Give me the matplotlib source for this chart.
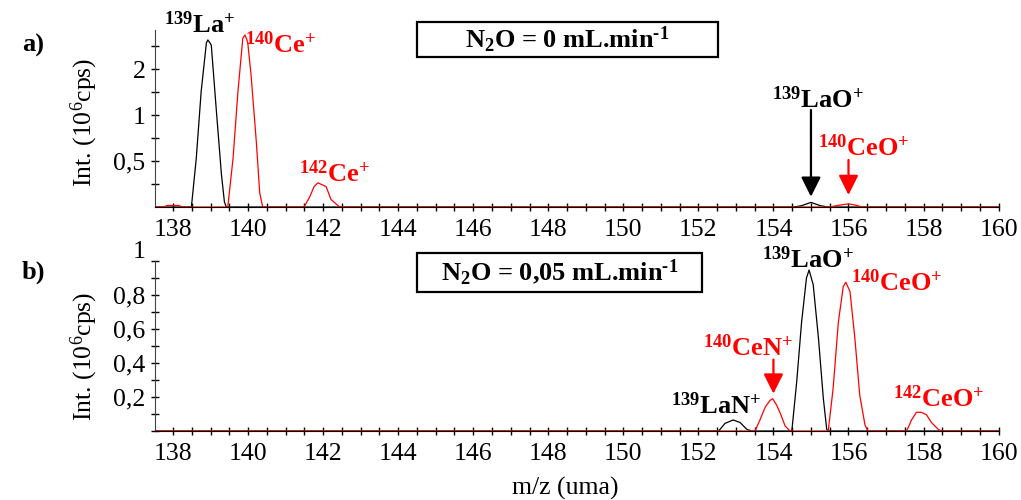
import numpy as np
import matplotlib
matplotlib.use("Agg")
import matplotlib.pyplot as plt
from matplotlib.patches import Rectangle
from matplotlib.ticker import FixedLocator, FixedFormatter, MultipleLocator
from matplotlib.transforms import ScaledTranslation

plt.rcParams['font.family'] = ['Liberation Serif', 'DejaVu Serif']
plt.rcParams['mathtext.fontset'] = 'custom'
plt.rcParams['mathtext.rm'] = 'Liberation Serif'
plt.rcParams['mathtext.bf'] = 'Liberation Serif:bold'
plt.rcParams['mathtext.it'] = 'Liberation Serif:italic'

# --- panel a) N2O = 0 (intensity, 10^6 cps) ---
a_la_x = [137.55, 138.49, 138.62, 138.75, 138.89, 138.93, 139.02, 139.15, 139.29, 139.37, 139.42,
          154.55, 154.75, 155.0, 155.25, 155.45, 160.0]
a_la_y = [0, 0, 0.52, 1.42, 2.97, 3.10, 2.87, 1.11, 0.41, 0.27, 0,
          0, 0.255, 0.268, 0.255, 0, 0]
a_ce_x = [137.55, 137.75, 137.85, 138.15, 138.25,
          139.46, 139.60, 139.73, 139.86, 139.92, 139.99, 140.08, 140.22, 140.31, 140.39,
          141.49, 141.64, 141.76, 141.86, 142.08, 142.21, 142.44,
          155.5, 155.75, 156.0, 156.2, 156.35, 160.0]
a_ce_y = [0, 0, 0.256, 0.256, 0,
          0, 0.52, 1.42, 3.18, 3.34, 3.0, 1.83, 0.67, 0.31, 0,
          0, 0.29, 0.34, 0.36, 0.34, 0.28, 0,
          0, 0.257, 0.262, 0.257, 0, 0]

# --- panel b) N2O = 0,05 ---
b_la_x = [137.55, 152.54, 152.71, 152.93, 153.11, 153.29, 153.42,
          154.49, 154.62, 154.75, 154.88, 154.95, 155.06, 155.20, 155.33, 155.42, 155.46, 160.0]
b_la_y = [0, 0, 0.045, 0.065, 0.05, 0.01, 0,
          0, 0.29, 0.64, 0.90, 0.947, 0.86, 0.545, 0.19, 0.01, 0, 0]
b_ce_x = [137.55, 153.51, 153.64, 153.78, 153.91, 153.98, 154.09, 154.19, 154.31, 154.44,
          155.46, 155.59, 155.73, 155.86, 155.93, 156.04, 156.17, 156.30, 156.44, 156.52,
          157.55, 157.68, 157.81, 157.94, 158.08, 158.21, 158.39, 158.48, 160.0]
b_ce_y = [0, 0, 0.065, 0.14, 0.18, 0.19, 0.15, 0.10, 0.03, 0,
          0, 0.25, 0.64, 0.85, 0.875, 0.82, 0.545, 0.21, 0.035, 0,
          0, 0.065, 0.11, 0.11, 0.095, 0.05, 0.01, 0, 0]

a_yticks = [0.5, 1, 2]
a_ylabels = ['0,5', '1', '2']
b_yticks = [0.2, 0.4, 0.6, 0.8, 1.0]
b_ylabels = ['0,2', '0,4', '0,6', '0,8', '1']

fig = plt.figure(figsize=(10.21, 5.0), dpi=100)
ax1 = fig.add_axes([0.1518, 0.586, 0.827, 0.354])
ax2 = fig.add_axes([0.1518, 0.138, 0.827, 0.340])


def fwd(v):
    return np.log2(np.maximum(v, 0.25) / 0.25)


def inv(y):
    return 0.25 * 2.0 ** np.asarray(y)


ax1.set_yscale('function', functions=(fwd, inv))

for ax in (ax1, ax2):
    ax.spines['top'].set_visible(False)
    ax.spines['right'].set_visible(False)
    ax.spines['left'].set_color('#444444')
    ax.set_xlim(137.52, 160.02)
    ax.xaxis.set_major_locator(MultipleLocator(2))
    ax.xaxis.set_minor_locator(MultipleLocator(0.5))
    ax.tick_params(which='both', direction='inout', length=6, width=1, labelsize=18.5, pad=4)
    ax.tick_params(axis='x', pad=6)

ax1.plot(a_la_x, a_la_y, color='black', lw=0.9, clip_on=False)
ax1.plot(a_ce_x, a_ce_y, color='red', lw=0.9, clip_on=False)
ax1.set_ylim(0.25, 3.6)
ax1.yaxis.set_major_locator(FixedLocator(a_yticks))
ax1.yaxis.set_major_formatter(FixedFormatter(a_ylabels))
ax1.yaxis.set_minor_locator(FixedLocator([0.25 * 2 ** (k / 2) for k in range(1, 8)]))
ax1.yaxis.set_minor_formatter(FixedFormatter([''] * 7))

ax2.plot(b_la_x, b_la_y, color='black', lw=0.9, clip_on=False)
ax2.plot(b_ce_x, b_ce_y, color='red', lw=0.9, clip_on=False)
ax2.set_ylim(0, 1.0)
ax2.yaxis.set_major_locator(FixedLocator(b_yticks))
ax2.yaxis.set_major_formatter(FixedFormatter(b_ylabels))
ax2.yaxis.set_minor_locator(MultipleLocator(0.1))

fs = 19
bold = dict(fontsize=fs, fontweight='bold', ha='center', va='center')

# panel a labels (x in data, y in axes fraction)
t1 = ax1.get_xaxis_transform()
ax1.text(138.7, 1.03, r'$\mathbf{^{139}La^{+}}$', color='black', transform=t1, clip_on=False, **bold)
ax1.text(140.86, 0.915, r'$\mathbf{^{140}Ce^{+}}$', color='red', transform=t1, **bold)
ax1.text(142.31, 0.19, r'$\mathbf{^{142}Ce^{+}}$', color='red', transform=t1, **bold)
ax1.text(155.17, 0.605, r'$\mathbf{^{139}LaO^{+}}$', color='black', transform=t1, **bold)
ax1.text(156.4, 0.333, r'$\mathbf{^{140}CeO^{+}}$', color='red', transform=t1, **bold)
arr = '-|>,head_length=0.6,head_width=0.3'
ax1.annotate('', xy=(155.0, 0.058), xytext=(155.0, 0.548), xycoords=t1, textcoords=t1,
             arrowprops=dict(arrowstyle=arr, color='black', lw=1.6, mutation_scale=20, shrinkA=0, shrinkB=0))
ax1.annotate('', xy=(156.0, 0.068), xytext=(156.0, 0.266), xycoords=t1, textcoords=t1,
             arrowprops=dict(arrowstyle=arr, color='red', lw=1.6, mutation_scale=20, shrinkA=0, shrinkB=0))

# panel b labels (data coords)
ax2.text(154.92, 1.01, r'$\mathbf{^{139}LaO^{+}}$', color='black', clip_on=False, **bold)
ax2.text(157.29, 0.87, r'$\mathbf{^{140}CeO^{+}}$', color='red', **bold)
ax2.text(153.32, 0.49, r'$\mathbf{^{140}CeN^{+}}$', color='red', **bold)
ax2.text(152.47, 0.147, r'$\mathbf{^{139}LaN^{+}}$', color='black', **bold)
ax2.text(158.4, 0.19, r'$\mathbf{^{142}CeO^{+}}$', color='red', **bold)
ax2.annotate('', xy=(154.0, 0.22), xytext=(154.0, 0.42),
             arrowprops=dict(arrowstyle=arr, color='red', lw=1.6, mutation_scale=20, shrinkA=0, shrinkB=0))

# the "1" label of panel b sits a little above its tick
fig.canvas.draw()
top_lab = ax2.get_yticklabels()[-1]
top_lab.set_transform(top_lab.get_transform() + ScaledTranslation(0, 8 / 72, fig.dpi_scale_trans))

# boxes
W, H = 1021.0, 500.0
fig.patches.append(Rectangle((417 / W, 1 - 57 / H), 301 / W, 35 / H, transform=fig.transFigure,
                             fill=False, edgecolor='black', lw=1.6))
fig.text(567 / W, 1 - 40 / H, 'N$\\mathbf{_2}$O = 0 mL.min$\\mathbf{^{\u20101}}$', **bold)
fig.patches.append(Rectangle((417 / W, 1 - 292 / H), 285 / W, 39 / H, transform=fig.transFigure,
                             fill=False, edgecolor='black', lw=1.6))
fig.text(560 / W, 1 - 272 / H, 'N$\\mathbf{_2}$O = 0,05 mL.min$\\mathbf{^{\u20101}}$', **bold)

fig.text(22 / W, 1 - 45 / H, 'a)', fontsize=fs, fontweight='bold', ha='left', va='center')
fig.text(22 / W, 1 - 272 / H, 'b)', fontsize=fs, fontweight='bold', ha='left', va='center')
fig.text(84 / W, 1 - 122 / H, 'Int. (10$^6$cps)', fontsize=18.5, rotation=90, ha='center', va='center')
fig.text(84 / W, 1 - 356 / H, 'Int. (10$^6$cps)', fontsize=18.5, rotation=90, ha='center', va='center')
fig.text(565 / W, 1 - 488 / H, 'm/z (uma)', fontsize=18.5, ha='center', va='center')

fig.savefig('out.png', dpi=100)
